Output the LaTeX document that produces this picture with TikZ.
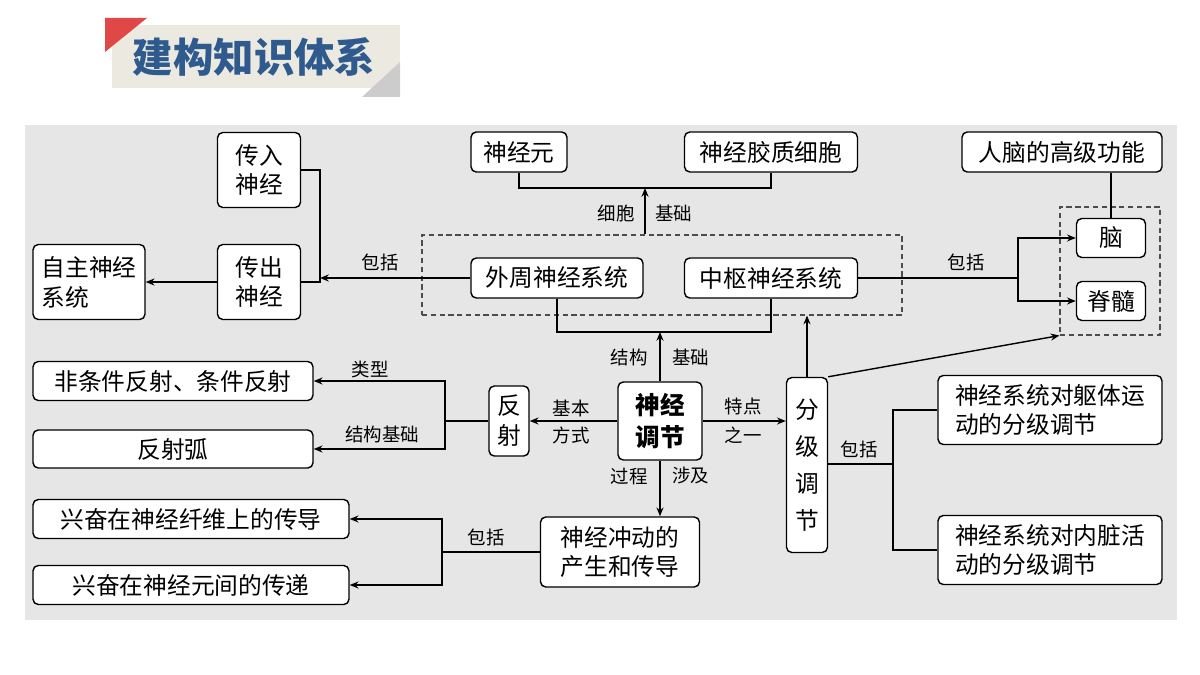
\documentclass[tikz,border=0pt]{standalone}
\usepackage{fontspec}
\setmainfont{Noto Sans CJK SC}
\usetikzlibrary{arrows.meta}
\definecolor{panel}{HTML}{E6E6E6}
\definecolor{titleblue}{HTML}{2E5A8E}
\definecolor{titlebg}{HTML}{ECEAE0}
\definecolor{titlered}{HTML}{E04848}
\tikzset{
  box/.style 2 args={draw,thick,rounded corners=3pt,fill=white,align=center,
    inner sep=0pt,minimum width=#1*0.02cm,minimum height=#2*0.02cm,font=\fontsize{13.5}{17}\selectfont},
  lbl/.style={font=\fontsize{10.5}{12}\selectfont},
  conn/.style={thick},
  arr/.style={thick,-{Stealth[length=5pt,width=4pt]}},
  group/.style={draw,densely dashed,semithick,black!70}
}
\begin{document}
\begin{tikzpicture}[x=0.02cm,y=-0.02cm]
	\useasboundingbox (0,0) rectangle (1200,675);
	% title
	\fill[titlebg] (112,25) rectangle (400,88);
	\fill[titlered] (105,18) -- (147,18) -- (105,52) -- cycle;
	\fill[black!20] (400,62) -- (400,97) -- (362,97) -- cycle;
	\node[text=titleblue,font=\fontsize{23}{26}\selectfont\bfseries] (title) at (254,57) {建构知识体系};
	% panel
	\fill[panel] (25,125) rectangle (1177,620);
	
	\node[group,minimum width=480*0.02cm,minimum height=80*0.02cm] (pns) at (662,275) {};
	\node[group,minimum width=100*0.02cm,minimum height=128*0.02cm] (brain) at (1110,271) {};
	
	\node[box={83}{75}] (cr) at (259,170) {传入\\神经};
	\node[box={83}{75}] (cc) at (259,282) {传出\\神经};
	\node[box={112}{75},align=left] (zz) at (89,282) {自主神经\\系统};
	\node[box={96}{40}] (sjy) at (519,152) {神经元};
	\node[box={173}{40}] (jz) at (771,152) {神经胶质细胞};
	\node[box={172}{40}] (wz) at (557,278) {外周神经系统};
	\node[box={173}{40}] (zs) at (771,278) {中枢神经系统};
	\node[box={200}{40}] (rn) at (1062,152) {人脑的高级功能};
	\node[box={69}{39}] (nao) at (1111,238) {脑};
	\node[box={69}{39}] (js) at (1111,301) {脊髓};
	\node[box={84}{78},font=\fontsize{14}{18}\selectfont\bfseries] (tj) at (660,421) {神经\\调节};
	\node[box={40}{70}] (fs) at (509,421) {反\\射};
	\node[box={41}{175},font=\fontsize{13.5}{21}\selectfont] (fj) at (807,465) {分\\级\\调\\节};
	\node[box={280}{39}] (ft) at (173,381) {非条件反射、条件反射};
	\node[box={280}{38}] (fsh) at (173,449) {反射弧};
	\node[box={224}{69},align=left] (qt) at (1050,410) {神经系统对躯体运\\动的分级调节};
	\node[box={224}{69},align=left] (nz) at (1050,550) {神经系统对内脏活\\动的分级调节};
	\node[box={159}{70}] (cd) at (620,552) {神经冲动的\\产生和传导};
	\node[box={316}{39}] (xf1) at (191,519) {兴奋在神经纤维上的传导};
	\node[box={316}{39}] (xf2) at (191,585) {兴奋在神经元间的传递};
	
	\coordinate (jb) at (660,332);
	\coordinate (xb) at (645,188);
	
	% top
	\draw[conn] (sjy.south) |- (xb) -| (jz.south);
	\draw[arr] (pns.north -| xb) -- (xb);
	\node[lbl,anchor=east] (l1) at (641,213) {细胞};
	\node[lbl,anchor=west] (l2) at (649,213) {基础};
	% left
	\draw[conn] (cr.east) -- (320,170) -- (320,282) -- (cc.east |- 0,282);
	\draw[arr] (wz.west) -- (320,278);
	\node[lbl] (l3) at (380,262) {包括};
	\draw[arr] (cc.west) -- (zz.east);
	% right
	\draw[conn] (zs.east) -- (1018,278);
	\draw[arr] (1018,278) |- (nao.west);
	\draw[arr] (1018,278) |- (js.west);
	\node[lbl] (l4) at (966,262) {包括};
	\draw[conn] (rn.south -| nao) -- (nao.north);
	% centre
	\draw[conn] (wz.south) |- (jb) -| (zs.south);
	\draw[arr] (tj.north) -- (jb);
	\node[lbl,anchor=east] (l5) at (654,357) {结构};
	\node[lbl,anchor=west] (l6) at (666,357) {基础};
	\draw[arr] (tj.west) -- (fs.east);
	\node[lbl] (l7) at (571,408) {基本};
	\node[lbl] (l8) at (571,435) {方式};
	\draw[arr] (tj.east) -- (fj.west |- tj.east);
	\node[lbl] (l9) at (743,406) {特点};
	\node[lbl] (l10) at (743,435) {之一};
	\draw[arr] (tj.south) -- (cd.north -| tj.south);
	\node[lbl,anchor=east] (l11) at (654,476) {过程};
	\node[lbl,anchor=west] (l12) at (666,476) {涉及};
	% reflex
	\draw[conn] (fs.west) -- (445,421);
	\draw[arr] (445,421) |- (ft.east);
	\draw[arr] (445,421) |- (fsh.east);
	\node[lbl] (l13) at (370,369) {类型};
	\node[lbl] (l14) at (382,434) {结构基础};
	% impulse
	\draw[conn] (cd.west) -- (442,552);
	\draw[arr] (442,552) |- (xf1.east);
	\draw[arr] (442,552) |- (xf2.east);
	\node[lbl] (l15) at (486,537) {包括};
	% graded
	\draw[arr] (fj.north) -- (fj.north |- pns.south);
	\draw[arr] (fj.north east) -- (brain.south west);
	\draw[conn] (fj.east |- 0,464) -- (893,464);
	\draw[conn] (qt.west) -| (893,464) |- (nz.west);
	\node[lbl] (l16) at (859,449) {包括};
\end{tikzpicture}
\end{document}
